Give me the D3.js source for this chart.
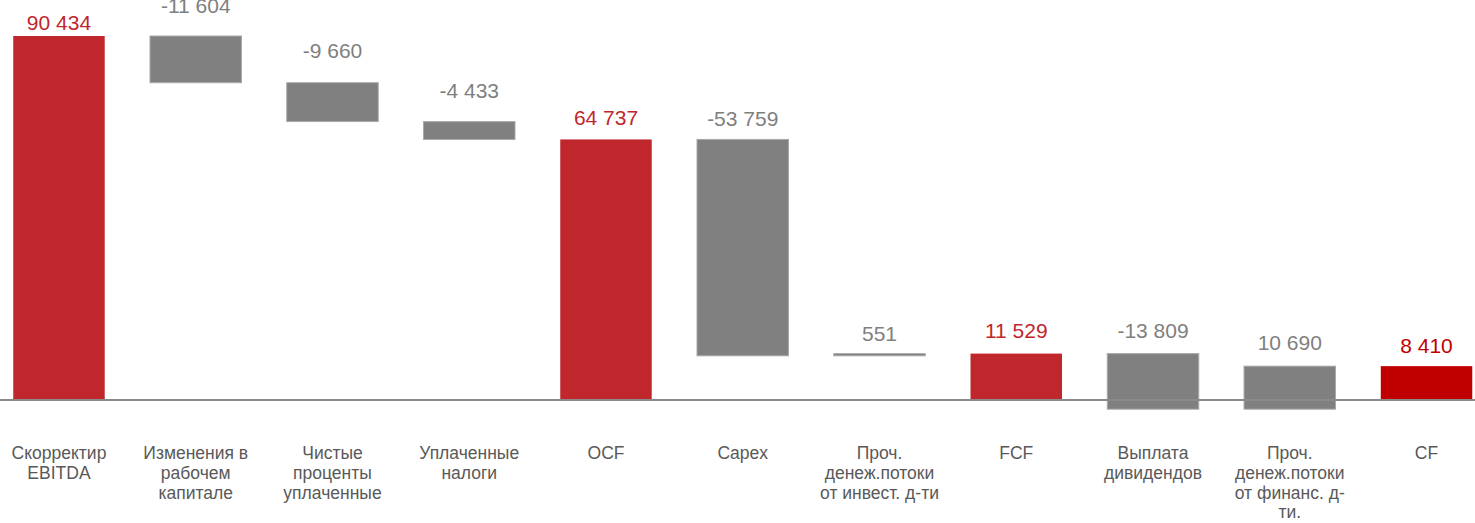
<!DOCTYPE html>
<html>
<head>
<meta charset="utf-8">
<script src="https://cdn.jsdelivr.net/npm/d3@7"></script>
<style>
  html, body { margin: 0; padding: 0; background: #ffffff; }
  svg { display: block; }
</style>
</head>
<body>
<svg id="chart" width="1475" height="523"></svg>
<script>
// ---- data ----
const categories = [
  "Скорректир EBITDA",
  "Изменения в рабочем капитале",
  "Чистые проценты уплаченные",
  "Уплаченные налоги",
  "OCF",
  "Capex",
  "Проч. денеж.потоки от инвест. д-ти",
  "FCF",
  "Выплата дивидендов",
  "Проч. денеж.потоки от финанс. д-ти.",
  "CF"
];
const categoryLines = [
  ["Скорректир", "EBITDA"],
  ["Изменения в", "рабочем", "капитале"],
  ["Чистые", "проценты", "уплаченные"],
  ["Уплаченные", "налоги"],
  ["OCF"],
  ["Capex"],
  ["Проч.", "денеж.потоки", "от инвест. д-ти"],
  ["FCF"],
  ["Выплата", "дивидендов"],
  ["Проч.", "денеж.потоки", "от финанс. д-", "ти."],
  ["CF"]
];
const values = [90434, -11604, -9660, -4433, 64737, -53759, 551, 11529, -13809, 10690, 8410];
const isTotal = [true, false, false, false, true, false, false, true, false, false, true];
const valueLabels = ["90 434", "-11 604", "-9 660", "-4 433", "64 737", "-53 759", "551", "11 529", "-13 809", "10 690", "8 410"];

// ---- layout / style ----
const svg = d3.select("#chart");
const zeroY = 400;
const x = d3.scaleBand()
  .domain(categories)
  .range([-9.4, 1494.9])
  .paddingInner(0.331)
  .paddingOuter(0.1655);
const y = d3.scaleLinear().domain([0, 90434]).range([zeroY, 36]);

const labelGap = [6, 23, 25, 24, 14, 13, 13, 16, 16, 16, 13];
const totalColors = ["#C0272D", null, null, null, "#C0272D", null, null, "#C0272D", null, null, "#C00000"];

// compute waterfall segments
let running = 0;
const bars = values.map((v, i) => {
  let lo, hi;
  if (isTotal[i]) {
    lo = 0; hi = v; running = v;
  } else {
    const start = running;
    running = start + v;
    lo = Math.min(start, running);
    hi = Math.max(start, running);
  }
  return { cat: categories[i], v, lo, hi, i };
});

// bars
svg.append("g").selectAll("rect")
  .data(bars)
  .join("rect")
  .attr("x", d => x(d.cat))
  .attr("width", x.bandwidth())
  .attr("y", d => y(d.hi))
  .attr("height", d => Math.max(1, y(d.lo) - y(d.hi)))
  .attr("fill", d => isTotal[d.i] ? totalColors[d.i] : "#808080")
  .attr("stroke", d => isTotal[d.i] ? "none" : "#a9a9a9")
  .attr("stroke-width", 1);

// axis line (zero)
svg.append("line")
  .attr("x1", 0).attr("x2", 1475)
  .attr("y1", y(0)).attr("y2", y(0))
  .attr("stroke", "#8a8a8a")
  .attr("stroke-width", 2);

// value labels
svg.append("g").selectAll("text")
  .data(bars)
  .join("text")
  .attr("x", d => x(d.cat) + x.bandwidth() / 2)
  .attr("y", d => y(d.hi) - labelGap[d.i])
  .attr("text-anchor", "middle")
  .attr("font-family", "'Liberation Sans', Arial, sans-serif")
  .attr("font-size", 21)
  .attr("fill", d => isTotal[d.i] ? totalColors[d.i] : "#7f7f7f")
  .text(d => valueLabels[d.i]);

// category labels
const catG = svg.append("g");
categories.forEach((c, i) => {
  const t = catG.append("text")
    .attr("x", x(c) + x.bandwidth() / 2)
    .attr("y", 459)
    .attr("text-anchor", "middle")
    .attr("font-family", "'Liberation Sans', Arial, sans-serif")
    .attr("font-size", 17.5)
    .attr("fill", "#595959");
  categoryLines[i].forEach((ln, k) => {
    t.append("tspan")
      .attr("x", x(c) + x.bandwidth() / 2)
      .attr("dy", k === 0 ? 0 : 19.8)
      .text(ln);
  });
});
</script>
</body>
</html>
